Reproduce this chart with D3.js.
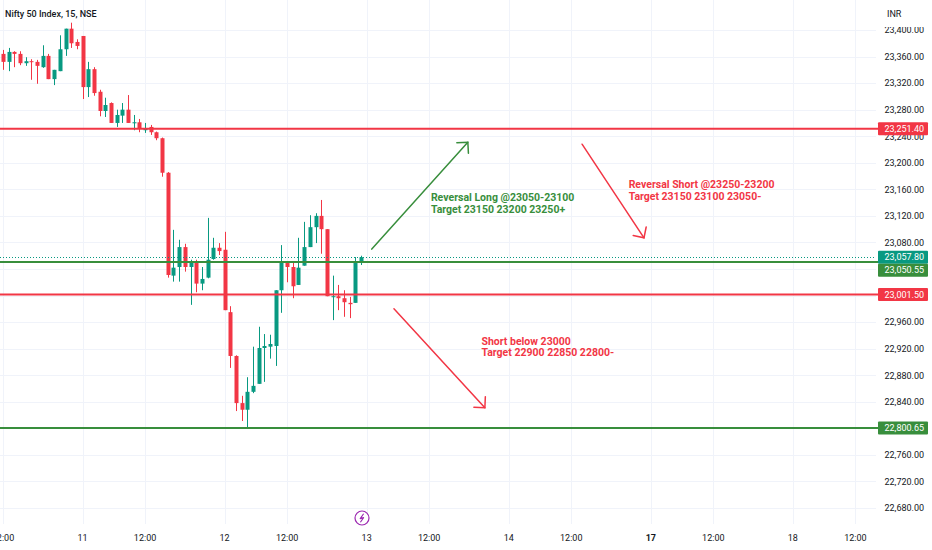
<!DOCTYPE html>
<html><head><meta charset="utf-8">
<script src="https://cdn.jsdelivr.net/npm/d3@7/dist/d3.min.js"></script>
<style>body{margin:0;background:#fff}svg{display:block}text{font-family:Roboto,"Noto Sans",sans-serif}</style>
</head><body><svg id="c" width="932" height="550"></svg>
<script>
// ---------------- data ----------------
const title = "Nifty 50 Index, 15, NSE";
const currency = "INR";
const firstBar = 11; // index of first candle, counted in 15-min bars from 10th 09:15
const opens  = [23364,23352,23367,23364,23350,23353,23352,23344,23361,23326,23338,23371,23402,23382,
  23391,23314,23341,23307,23278,23290,23260,23271,23280,23260,23261,23249,23254,23246,23237,23185,23030,23043,23073,23043,23051,23018,23027,23055,23072,
  23069,22975,22909,22838,22828,22855,22867,22921,22923,22924,23008,23049,23043,23016,23045,23073,23103,23120,23100,22998,22999,22996,22989,22989,23049];
const highs  = [23370,23373,23368,23368,23359,23356,23355,23377,23364,23340,23392,23402,23411,23386,
  23391,23352,23344,23310,23298,23291,23280,23290,23302,23272,23266,23260,23257,23247,23238,23186,23099,23084,23078,23054,23054,23043,23117,23087,23079,
  23096,22984,22910,22849,22877,22923,22953,22942,22941,23008,23076,23052,23050,23087,23111,23121,23124,23144,23100,23030,23016,23008,22998,23058,23060];
const lows   = [23340,23338,23344,23347,23346,23325,23319,23343,23326,23317,23338,23361,23373,23371,
  23296,23299,23301,23270,23269,23260,23254,23260,23260,23249,23246,23245,23242,23234,23179,23027,23021,23021,23036,22986,23005,23008,23026,23054,23061,
  22978,22891,22826,22811,22800,22853,22867,22870,22905,22894,22974,23020,22996,23016,23045,23073,23079,23063,22999,22963,22978,22968,22966,22989,23046];
const closes = [23352,23367,23364,23350,23353,23352,23346,23361,23326,23340,23371,23402,23380,23376,
  23314,23341,23305,23278,23287,23260,23272,23280,23260,23261,23252,23252,23246,23237,23185,23031,23042,23073,23043,23051,23018,23025,23054,23072,23067,
  22978,22909,22838,22828,22855,22864,22921,22924,22927,23008,23049,23043,23014,23042,23073,23103,23120,23100,22999,22999,22996,22990,22987,23049,23057.8];
const priceTicks = [22680,22720,22760,22800,22840,22880,22920,22960,23000,23040,23080,23120,23160,23200,23240,23280,23320,23360,23400];
const timeTickBars   = [11,25,36,50,61,75,86,100,111,125,136,150,161];
const timeTickLabels = ["12:00","11","12:00","12","12:00","13","12:00","14","12:00","17","12:00","18","12:00"];
const levelPrices = [23251.40, 23050.55, 23001.50, 22800.65];
const levelKinds  = ["res","sup","res","sup"];
const lastPrice = 23057.80;
// arrows: [barFrom, priceFrom, barTo, priceTo]
const arrowsLong  = [[75.9, 23070, 92.8, 23231]];
const arrowsShort = [[112.9, 23228, 123.8, 23087],[79.8, 22980, 95.8, 22831]];
const noteLong  = {bar: 86.3, price: 23142, lines: ["Reversal Long @23050-23100","Target 23150 23200 23250+"]};
const notesShort = [
  {bar: 121.1, price: 23162, lines: ["Reversal Short @23250-23200","Target 23150 23100 23050-"]},
  {bar: 95.2, price: 22926, lines: ["Short below 23000","Target 22900 22850 22800-"]}
];
const eventBar = 74;

// ---------------- drawing ----------------
const W = 932, H = 550, plotR = 876, plotB = 524;
const UP = "#089981", DOWN = "#f23645", GREEN = "#388e3c", RED = "#f23645", TXT = "#131722", GRID = "#f0f3fa";
const x = d3.scaleLinear().domain([11, 74]).range([3, 361]);
const y = d3.scaleLinear().domain([22680, 23400]).range([508, 30]);

const svg = d3.select("#c");
svg.append("rect").attr("width", W).attr("height", H).attr("fill", "#fff");
const defs = svg.append("defs");
defs.append("clipPath").attr("id", "plot").append("rect").attr("width", plotR).attr("height", plotB);
defs.append("clipPath").attr("id", "axis").append("rect").attr("x", plotR).attr("y", 27).attr("width", W - plotR).attr("height", plotB - 27);

const plot = svg.append("g").attr("clip-path", "url(#plot)");
const px = v => Math.round(v) + 0.5;

plot.append("g").selectAll("line").data(priceTicks).join("line")
  .attr("x1", 0).attr("x2", plotR).attr("y1", d => px(y(d))).attr("y2", d => px(y(d)))
  .attr("stroke", GRID).attr("stroke-width", 1);
plot.append("g").selectAll("line").data(timeTickBars).join("line")
  .attr("y1", 0).attr("y2", plotB).attr("x1", d => px(x(d))).attr("x2", d => px(x(d)))
  .attr("stroke", GRID).attr("stroke-width", 1);

const candles = opens.map((o, i) => ({ i: firstBar + i, o, h: highs[i], l: lows[i], c: closes[i] }));
const cg = plot.append("g");
cg.selectAll("line").data(candles).join("line")
  .attr("x1", d => px(x(d.i))).attr("x2", d => px(x(d.i)))
  .attr("y1", d => y(d.h)).attr("y2", d => y(d.l))
  .attr("stroke", d => d.c >= d.o ? UP : DOWN).attr("stroke-width", 1);
cg.selectAll("rect").data(candles).join("rect")
  .attr("x", d => Math.round(x(d.i)) - 1.5).attr("width", 4)
  .attr("y", d => y(Math.max(d.o, d.c)))
  .attr("height", d => Math.max(1, Math.abs(y(d.o) - y(d.c))))
  .attr("fill", d => d.c >= d.o ? UP : DOWN);

// last price dotted line
plot.append("line").attr("x1", 0).attr("x2", plotR)
  .attr("y1", px(y(lastPrice))).attr("y2", px(y(lastPrice)))
  .attr("stroke", UP).attr("stroke-width", 1).attr("stroke-dasharray", "1,2");

// horizontal levels
svg.append("g").selectAll("line").data(levelPrices).join("line")
  .attr("x1", 0).attr("x2", 879).attr("y1", d => y(d)).attr("y2", d => y(d))
  .attr("stroke", (d, i) => levelKinds[i] === "res" ? RED : GREEN).attr("stroke-width", 2);

// arrows
function drawArrows(list, color) {
  list.forEach(a => {
    const x1 = x(a[0]), y1 = y(a[1]), x2 = x(a[2]), y2 = y(a[3]);
    const ang = Math.atan2(y1 - y2, x1 - x2), L = 11;
    const p1 = [x2 + L * Math.cos(ang + Math.PI / 4), y2 + L * Math.sin(ang + Math.PI / 4)];
    const p2 = [x2 + L * Math.cos(ang - Math.PI / 4), y2 + L * Math.sin(ang - Math.PI / 4)];
    const g = svg.append("g").attr("stroke", color).attr("stroke-width", 1.5).attr("fill", "none").attr("stroke-linecap", "round");
    g.append("line").attr("x1", x1).attr("y1", y1).attr("x2", x2).attr("y2", y2);
    g.append("path").attr("d", `M${p1[0]},${p1[1]}L${x2},${y2}L${p2[0]},${p2[1]}`);
  });
}
drawArrows(arrowsLong, GREEN);
drawArrows(arrowsShort, RED);

function drawNote(n, color) {
  const t = svg.append("text").attr("x", x(n.bar)).attr("y", y(n.price))
    .attr("fill", color).attr("font-size", 10.5).attr("font-weight", 700);
  n.lines.forEach((s, k) => t.append("tspan").attr("x", x(n.bar)).attr("dy", k ? 11.8 : 0).text(s));
}
drawNote(noteLong, GREEN);
notesShort.forEach(n => drawNote(n, RED));

// title
svg.append("text").attr("x", 5).attr("y", 17).attr("font-size", 9).attr("font-weight", 500).attr("fill", TXT).text(title);

// price axis
svg.append("text").attr("x", 887).attr("y", 17).attr("font-size", 9).attr("fill", TXT).text(currency);
const fmt = d3.format(",.2f");
svg.append("g").attr("clip-path", "url(#axis)").selectAll("text").data(priceTicks).join("text")
  .attr("x", 884.5).attr("y", d => y(d) + 3.3).attr("font-size", 9).attr("fill", TXT).text(d => fmt(d));

// price labels
const boxes = levelPrices.map((p, i) => ({ p, col: levelKinds[i] === "res" ? RED : GREEN }))
  .concat([{ p: lastPrice, col: UP }]).sort((a, b) => b.p - a.p);
let prev = -100;
boxes.forEach(b => { b.cy = Math.max(y(b.p), prev + 13); prev = b.cy; });
const bg = svg.append("g");
bg.selectAll("rect").data(boxes).join("rect")
  .attr("x", 878).attr("y", d => d.cy - 6.5).attr("width", 50).attr("height", 13).attr("rx", 1).attr("fill", d => d.col);
bg.selectAll("text").data(boxes).join("text")
  .attr("x", 884.5).attr("y", d => d.cy + 3.3).attr("font-size", 9).attr("fill", "#fff").text(d => fmt(d.p));

// time axis
svg.append("g").selectAll("text").data(timeTickBars).join("text")
  .attr("x", d => x(d)).attr("y", 541).attr("text-anchor", "middle").attr("font-size", 9)
  .attr("font-weight", (d, i) => timeTickLabels[i] === "17" ? 700 : 400)
  .attr("fill", TXT).text((d, i) => timeTickLabels[i]);

// event marker
const ex = x(eventBar) + 1, ey = 518;
const eg = svg.append("g").attr("transform", `translate(${ex},${ey})`);
eg.append("circle").attr("r", 7).attr("fill", "#fff").attr("stroke", "#9c27b0").attr("stroke-width", 1.2);
eg.append("path").attr("d", "M1.6,-4.2L-1.8,0.6L1.6,-0.4L-1.6,4.2").attr("fill", "none").attr("stroke", "#9c27b0").attr("stroke-width", 1.1).attr("stroke-linejoin", "round");
</script></body></html>
